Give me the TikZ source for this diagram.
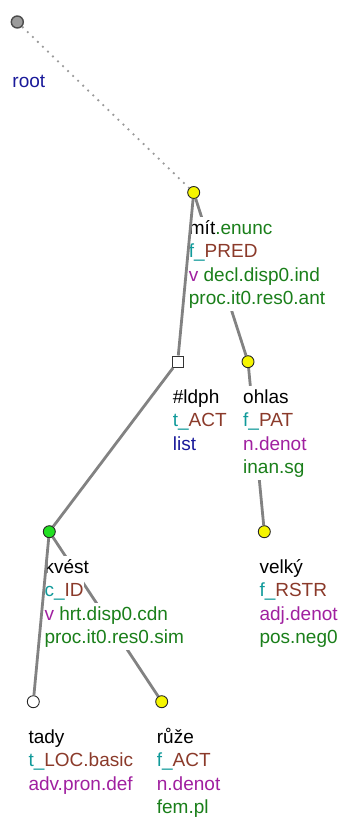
\documentclass[tikz,border=0pt]{standalone}
\usepackage{fontspec}
\setmainfont{Liberation Sans}
\pgfdeclarelayer{bg}
\pgfsetlayers{bg,main}
\definecolor{cgreen}{HTML}{1A7F1A}
\definecolor{cteal}{HTML}{109A9A}
\definecolor{cbrown}{HTML}{8B3A2A}
\definecolor{cpurple}{HTML}{A020A0}
\definecolor{cnavy}{HTML}{1A1A9A}
\definecolor{edgegray}{HTML}{828282}
\definecolor{dotgray}{HTML}{9A9A9A}
\definecolor{rootgray}{HTML}{9C9C9C}
\definecolor{kgreen}{HTML}{22E022}
\definecolor{nyellow}{HTML}{F5F500}
\begin{document}
\begin{tikzpicture}[x=1pt,y=-1pt,
  edge/.style={draw=edgegray,line width=2.8pt},
  rootedge/.style={draw=dotgray,line width=1.8pt,dash pattern=on 1.8pt off 5.2pt},
  tnode/.style={circle,draw=black!85,line width=0.9pt,minimum size=12pt,inner sep=0pt},
  sqnode/.style={rectangle,draw=black!80,line width=0.9pt,minimum size=11.5pt,inner sep=0pt,fill=white},
  lab/.style={anchor=base west,inner sep=0pt,fill=white,text height=17pt,text depth=6.5pt,font=\fontsize{19pt}{23.5pt}\selectfont},
]
\useasboundingbox (0,0) rectangle (341,818);

% tree nodes
\node[tnode,fill=rootgray,draw=black!70,line width=1.4pt] (root) at (17.3,22) {};
\node[tnode,fill=nyellow] (mit) at (193.7,192.5) {};
\node[sqnode] (ldph) at (177.7,361.7) {};
\node[tnode,fill=nyellow] (ohlas) at (248,361.7) {};
\node[tnode,fill=kgreen] (kvest) at (49.3,531.7) {};
\node[tnode,fill=nyellow] (velky) at (264.3,531.7) {};
\node[tnode,fill=white] (tady) at (33.3,701.7) {};
\node[tnode,fill=nyellow] (ruze) at (161.7,701.7) {};

% edges hidden behind labels
\begin{pgfonlayer}{bg}
\draw[rootedge] (root) -- (mit);
\draw[edge] (mit) -- (ohlas);
\draw[edge] (ohlas) -- (velky);
\draw[edge] (kvest) -- (ruze);
\end{pgfonlayer}

% labels
\node[lab,text=cnavy] (rootl2) at (12.3,87.5) {root};

\node[lab] (mitl1) at (188.7,234) {mít\textcolor{cgreen}{.enunc}};
\node[lab] (mitl2) at (188.7,257.5) {\textcolor{cteal}{f\_}\textcolor{cbrown}{PRED}};
\node[lab] (mitl3) at (188.7,281) {\textcolor{cpurple}{v}\ \textcolor{cgreen}{decl.disp0.ind}};
\node[lab,text=cgreen] (mitl4) at (188.7,304.5) {proc.it0.res0.ant};

\node[lab] (ldphl1) at (172.7,403.2) {\#ldph};
\node[lab] (ldphl2) at (172.7,426.7) {\textcolor{cteal}{t\_}\textcolor{cbrown}{ACT}};
\node[lab,text=cnavy] (ldphl3) at (172.7,450.2) {list};

\node[lab] (ohlasl1) at (243,403.2) {ohlas};
\node[lab] (ohlasl2) at (243,426.7) {\textcolor{cteal}{f\_}\textcolor{cbrown}{PAT}};
\node[lab,text=cpurple] (ohlasl3) at (243,450.2) {n.denot};
\node[lab,text=cgreen] (ohlasl4) at (243,473.7) {inan.sg};

\node[lab] (kvestl1) at (44.3,573.2) {kvést};
\node[lab] (kvestl2) at (44.3,596.7) {\textcolor{cteal}{c\_}\textcolor{cbrown}{ID}};
\node[lab] (kvestl3) at (44.3,620.2) {\textcolor{cpurple}{v}\ \textcolor{cgreen}{hrt.disp0.cdn}};
\node[lab,text=cgreen] (kvestl4) at (44.3,643.7) {proc.it0.res0.sim};

\node[lab] (velkyl1) at (259.3,573.2) {velký};
\node[lab] (velkyl2) at (259.3,596.7) {\textcolor{cteal}{f\_}\textcolor{cbrown}{RSTR}};
\node[lab,text=cpurple] (velkyl3) at (259.3,620.2) {adj.denot};
\node[lab,text=cgreen] (velkyl4) at (259.3,643.7) {pos.neg0};

\node[lab] (tadyl1) at (28.3,743.2) {tady};
\node[lab] (tadyl2) at (28.3,766.7) {\textcolor{cteal}{t\_}\textcolor{cbrown}{LOC.basic}};
\node[lab,text=cpurple] (tadyl3) at (28.3,790.2) {adv.pron.def};

\node[lab] (ruzel1) at (156.7,743.2) {růže};
\node[lab] (ruzel2) at (156.7,766.7) {\textcolor{cteal}{f\_}\textcolor{cbrown}{ACT}};
\node[lab,text=cpurple] (ruzel3) at (156.7,790.2) {n.denot};
\node[lab,text=cgreen] (ruzel4) at (156.7,813.7) {fem.pl};

% edges visible over labels
\draw[edge] (mit) -- (ldph);
\draw[edge] (ldph) -- (kvest);
\draw[edge] (kvest) -- (tady);
\end{tikzpicture}
\end{document}
